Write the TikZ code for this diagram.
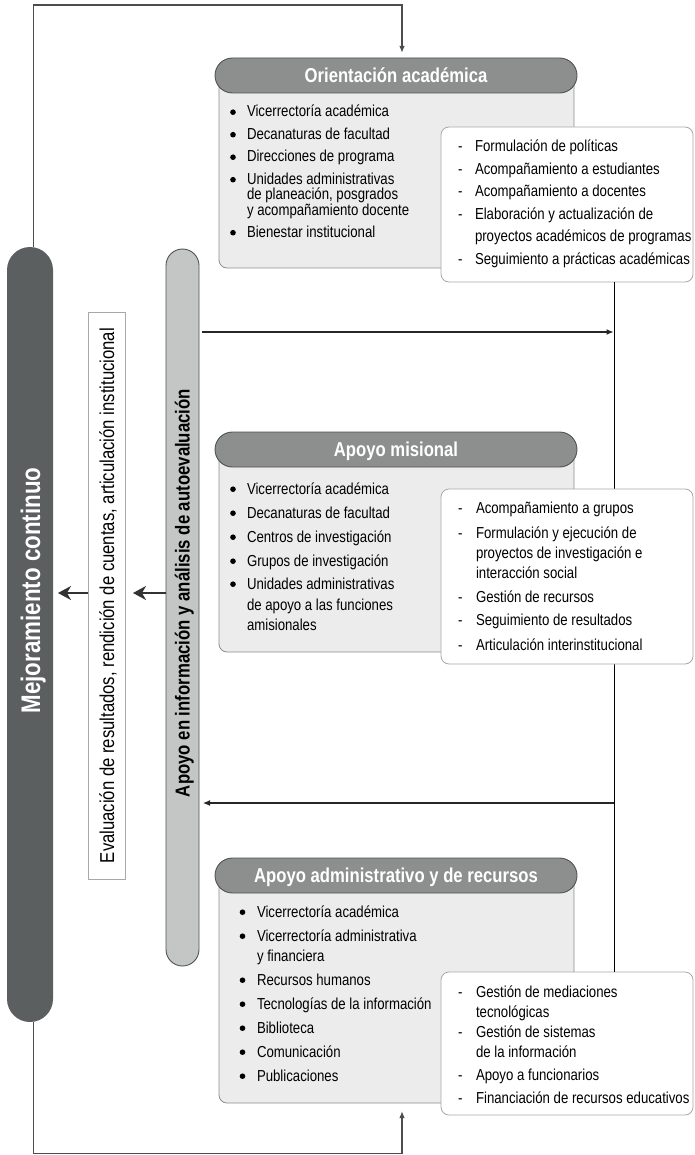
\documentclass[tikz,border=0pt]{standalone}
\usepackage{fontspec}
\setmainfont{Liberation Sans}[FakeStretch=0.83]
\usetikzlibrary{arrows.meta}
\definecolor{darkbar}{HTML}{5B5F5F}
\definecolor{graybar}{HTML}{C4C6C5}
\definecolor{hdrfill}{HTML}{8C8F8E}
\definecolor{hdrline}{HTML}{4F5352}
\definecolor{panelfill}{HTML}{ECECEC}
\definecolor{panelline}{HTML}{8E8E8E}
\definecolor{boxline}{HTML}{A8A8A8}
\definecolor{linecol}{HTML}{4A4E4E}
\newcommand\bodyfont{\fontsize{15.9}{18}\selectfont}
\newcommand\hdrfont{\fontsize{20.1}{22}\selectfont\bfseries}
\begin{document}
\begin{tikzpicture}[x=1pt,y=-1pt,
  every node/.style={inner sep=0pt,outer sep=0pt},
  panel/.style={draw=panelline,fill=panelfill,line width=0.8pt,rounded corners=8pt,minimum width=355pt},
  hdr/.style={draw=hdrline,fill=hdrfill,line width=0.9pt,rounded corners=17.5pt,minimum width=362pt,minimum height=35pt,text=white,font=\hdrfont,text height=14.5pt,text depth=0pt},
  rbox/.style={draw=boxline,fill=white,line width=0.8pt,rounded corners=8pt,minimum width=252pt},
  lst/.style={anchor=base west,font=\bodyfont},
  bul/.style={circle,fill=black,minimum size=5.6pt},
  loopline/.style={draw=linecol,line width=1.4pt},
  harrow/.style={draw=black!85,line width=1.1pt,-{Latex[length=7pt,width=6pt]}},
  bigarrow/.style={draw=black!80,line width=1.6pt,-{Stealth[length=13pt,width=14pt,inset=4pt]}},
  vline/.style={draw=black,line width=0.9pt}]

\path[use as bounding box,fill=white] (0,0) rectangle (694,1155);

% side bars
\node[fill=darkbar,rounded corners=23pt,minimum width=46pt,minimum height=775pt] (db) at (30,634.5) {};
\node[draw=hdrline,line width=0.9pt,fill=graybar,rounded corners=16.5pt,minimum width=33pt,minimum height=717pt] (gb) at (182.5,607.5) {};
\node[rotate=90,anchor=base,text=white,font=\fontsize{26.9}{28}\selectfont\bfseries] (mt) at (40,590.5) {Mejoramiento continuo};
\node[rotate=90,anchor=base,text=black,font=\fontsize{20.2}{22}\selectfont\bfseries] (gt) at (189.5,593) {Apoyo en información y análisis de autoevaluación};
\node[rotate=90,draw=boxline,line width=0.8pt,fill=white,minimum width=567pt,minimum height=37pt,font=\fontsize{20.1}{22}\selectfont,text height=15pt,text depth=0pt] (ev) at (106.5,595.5) {Evaluación de resultados, rendición de cuentas, articulación institucional};

% panels and headers
\node[panel,minimum height=193pt] (p1) at (396.5,171.5) {};
\node[panel,minimum height=203pt] (p2) at (396.5,550.5) {};
\node[panel,minimum height=228pt] (p3) at (396.5,989) {};
\node[hdr] (h1) at (396,75.5) {Orientación académica};
\node[hdr] (h2) at (396,449.5) {Apoyo misional};
\node[hdr] (h3) at (396,875.5) {Apoyo administrativo y de recursos};

% feedback loop
\coordinate (ltop) at (33.5,5);
\coordinate (rtop) at (402,5);
\coordinate (lbot) at (33.5,1153.5);
\coordinate (rbot) at (402,1153.5);
\draw[loopline,-{Latex[length=7pt,width=5.5pt]},shorten >=5pt] (db.north -| ltop) -- (ltop) -- (rtop) -- (h1.north -| rtop);
\draw[loopline,-{Latex[length=7pt,width=5.5pt]},shorten >=8pt] (db.south -| lbot) -- (lbot) -- (rbot) -- (p3.south -| rbot);

% right boxes and vertical line
\coordinate (vx) at (614,0);
\node[rbox,minimum height=155pt] (r1) at (567,204.5) {};
\node[rbox,minimum height=143pt] (r3) at (567,1043.5) {};
\draw[vline] (r1.south -| vx) -- (r3.north -| vx);
\node[rbox,minimum height=175pt] (r2) at (567,576.5) {};

% arrows
\coordinate (ya) at (0,332);
\coordinate (yb) at (0,803);
\coordinate (ay) at (0,593);
\draw[harrow,shorten <=3pt,shorten >=0.5pt] (gb.east |- ya) -- (vx |- ya);
\draw[harrow,shorten >=4pt] (vx |- yb) -- (gb.east |- yb);
\draw[bigarrow,shorten >=5pt] (ev.north |- ay) -- (db.east |- ay);
\draw[bigarrow,shorten >=8pt] (gb.west |- ay) -- (ev.south |- ay);

% box 1 lists
\foreach \ypos/\ltext [count=\i] in {117/Vicerrectoría académica, 139.5/Decanaturas de facultad, 162/Direcciones de programa, 184.5/Unidades administrativas, {200/de planeación, posgrados}, 215.5/y acompañamiento docente, 237.5/Bienestar institucional}
  \node[lst] (a\i) at (247,\ypos) {\ltext};
\foreach \ypos [count=\i] in {117,139.5,162,184.5,237.5}
  \node[bul] (ab\i) at (233,\ypos-4.8) {};
\foreach \ypos/\ltext [count=\i] in {152/Formulación de políticas, 174.5/Acompañamiento a estudiantes, 197/Acompañamiento a docentes, 219.5/Elaboración y actualización de, 242/proyectos académicos de programas, 264.5/Seguimiento a prácticas académicas}
  \node[lst] (b\i) at (475,\ypos) {\ltext};
\foreach \ypos [count=\i] in {152,174.5,197,219.5,264.5}
  \node[lst] (bd\i) at (458,\ypos) {-};

% box 2 lists
\foreach \ypos/\ltext [count=\i] in {494/Vicerrectoría académica, 518/Decanaturas de facultad, 542/Centros de investigación, 566/Grupos de investigación, 589/Unidades administrativas, 610/de apoyo a las funciones, 630/amisionales}
  \node[lst] (c\i) at (247,\ypos) {\ltext};
\foreach \ypos [count=\i] in {494,518,542,566,589}
  \node[bul] (cb\i) at (233,\ypos-4.8) {};
\foreach \ypos/\ltext [count=\i] in {513/Acompañamiento a grupos, 538/Formulación y ejecución de, 558/proyectos de investigación e, 578/interacción social, 602/Gestión de recursos, 625/Seguimiento de resultados, 650/Articulación interinstitucional}
  \node[lst] (d\i) at (476,\ypos) {\ltext};
\foreach \ypos [count=\i] in {513,538,602,625,650}
  \node[lst] (dd\i) at (458,\ypos) {-};

% box 3 lists
\foreach \ypos/\ltext [count=\i] in {917/Vicerrectoría académica, 941/Vicerrectoría administrativa, 961/y financiera, 985/Recursos humanos, 1009/Tecnologías de la información, 1033/Biblioteca, 1057/Comunicación, 1081/Publicaciones}
  \node[lst] (e\i) at (257,\ypos) {\ltext};
\foreach \ypos [count=\i] in {917,941,985,1009,1033,1057,1081}
  \node[bul] (eb\i) at (242.5,\ypos-4.8) {};
\foreach \ypos/\ltext [count=\i] in {997/Gestión de mediaciones, 1017/tecnológicas, 1037/Gestión de sistemas, 1057/de la información, 1080/Apoyo a funcionarios, 1103/Financiación de recursos educativos}
  \node[lst] (f\i) at (476,\ypos) {\ltext};
\foreach \ypos [count=\i] in {997,1037,1080,1103}
  \node[lst] (fd\i) at (458,\ypos) {-};
\end{tikzpicture}
\end{document}
